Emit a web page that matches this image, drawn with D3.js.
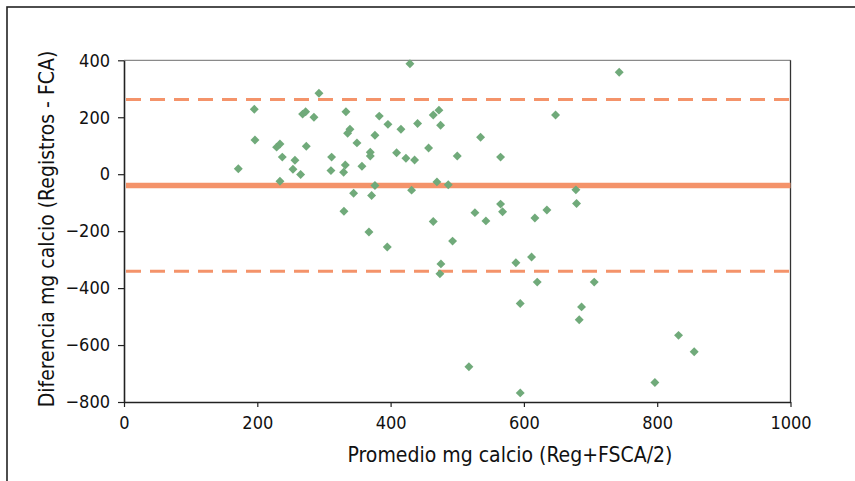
<!DOCTYPE html>
<html>
<head>
<meta charset="utf-8">
<script src="https://cdn.jsdelivr.net/npm/d3@7"></script>
<style>
  body { margin: 0; background: #fff; }
  svg text { font-family: "Liberation Sans Narrow", "Arial Narrow", "DejaVu Sans Condensed", sans-serif; fill: #111; }
</style>
</head>
<body>
<div id="chart"></div>
<script>
// Bland-Altman: promedio (x) vs diferencia (y)
var promedio = [292.5, 195.5, 196.5, 171.5, 268, 272.5, 285, 333, 339, 335.5,
  349.5, 229, 234, 237.5, 256.5, 253.5, 265, 273.5, 311.5, 310.5,
  332, 329.5, 357, 234, 344.5, 330, 429, 383, 396, 415.5,
  376.5, 369.5, 369.5, 409, 423, 436, 440.5, 464, 472.5, 475,
  457, 500, 535, 565, 647.5, 376.5, 371.5, 431.5, 469.5, 486.5,
  678, 679, 565, 568, 526.5, 543, 616.5, 634.5, 464, 493,
  367.5, 395, 475.5, 474, 588, 611.5, 620, 705.5, 594.5, 686.5,
  683, 517.5, 594.5, 743, 832, 855.5, 796.5];
var diferencia = [284, 228, 120, 19, 211, 219, 200, 219, 158, 144,
  110, 95, 106, 60, 49, 17.5, -1, 98, 60, 12.6,
  32, 7, 28, -25, -67, -130, 388, 204, 175, 158,
  137, 77, 64, 75, 56, 50, 178, 208, 225, 172,
  92, 64, 130, 60, 208, -40, -75, -56, -27, -37,
  -55, -103, -105, -132, -135, -164, -154, -126, -166, -235,
  -203, -256, -315, -350, -311, -291, -379, -379, -454, -466,
  -511, -676, -768, 358, -566, -623.5, -731.6];

var media = -40;
var limites = [262, -341];

var xTicks = [0, 200, 400, 600, 800, 1000];
var yTicks = [400, 200, 0, -200, -400, -600, -800];

var width = 855, height = 481;
var svg = d3.select("#chart").append("svg")
    .attr("width", width)
    .attr("height", height);

// marco exterior
svg.append("rect")
    .attr("x", 7).attr("y", 7)
    .attr("width", 900).attr("height", 500)
    .attr("fill", "none")
    .attr("stroke", "#222")
    .attr("stroke-width", 1.6);

var x = d3.scaleLinear().domain([0, 1000]).range([124, 790.5]);
var y = d3.scaleLinear().domain([-800, 400]).range([402, 60.3]);

// borde superior y derecho
svg.append("line")
    .attr("x1", x(0)).attr("x2", x(1000))
    .attr("y1", y(400)).attr("y2", y(400))
    .attr("stroke", "#8a8a8a").attr("stroke-width", 1.3);
svg.append("line")
    .attr("x1", x(1000)).attr("x2", x(1000))
    .attr("y1", y(400)).attr("y2", y(-800))
    .attr("stroke", "#333").attr("stroke-width", 1.3);

// lineas media y limites
svg.append("line")
    .attr("x1", x(0) + 2).attr("x2", x(1000))
    .attr("y1", y(media)).attr("y2", y(media))
    .attr("stroke", "#f4936a")
    .attr("stroke-width", 5.5);

svg.selectAll(".limite")
    .data(limites)
    .enter()
    .append("line")
    .attr("class", "limite")
    .attr("x1", x(0) + 2).attr("x2", x(1000))
    .attr("y1", function(d) { return y(d); })
    .attr("y2", function(d) { return y(d); })
    .attr("stroke", "#f4936a")
    .attr("stroke-width", 3)
    .attr("stroke-dasharray", "15,9");

// puntos
var diamond = d3.symbol().type(d3.symbolSquare).size(40);
svg.selectAll(".punto")
    .data(promedio)
    .enter()
    .append("path")
    .attr("class", "punto")
    .attr("d", diamond)
    .attr("transform", function(d, i) {
      return "translate(" + x(d) + "," + y(diferencia[i]) + ") rotate(45)";
    })
    .attr("fill", "#70aa7a");

// ejes
var xAxis = svg.append("g")
    .attr("transform", "translate(0," + y(-800) + ")")
    .call(d3.axisBottom(x).tickValues(xTicks).tickFormat(d3.format("d"))
      .tickSize(5).tickPadding(5).tickSizeOuter(0));
var yAxis = svg.append("g")
    .attr("transform", "translate(" + x(0) + ",0)")
    .call(d3.axisLeft(y).tickValues(yTicks).tickFormat(d3.format("d"))
      .tickSize(6).tickPadding(8).tickSizeOuter(0));

[xAxis, yAxis].forEach(function(a) {
  a.select(".domain").attr("stroke", "#222").attr("stroke-width", 1.6);
  a.selectAll(".tick line").attr("stroke", "#222").attr("stroke-width", 1.2);
  a.selectAll("text").style("font-size", "18px").attr("fill", "#111");
});
xAxis.selectAll("text").attr("dy", "0.95em");

// titulos de ejes
svg.append("text")
    .attr("x", 510)
    .attr("y", 462)
    .attr("text-anchor", "middle")
    .style("font-size", "21px")
    .text("Promedio mg calcio (Reg+FSCA/2)");

svg.append("text")
    .attr("transform", "translate(54,229) rotate(-90)")
    .attr("text-anchor", "middle")
    .style("font-size", "21px")
    .text("Diferencia mg calcio (Registros - FCA)");
</script>
</body>
</html>
